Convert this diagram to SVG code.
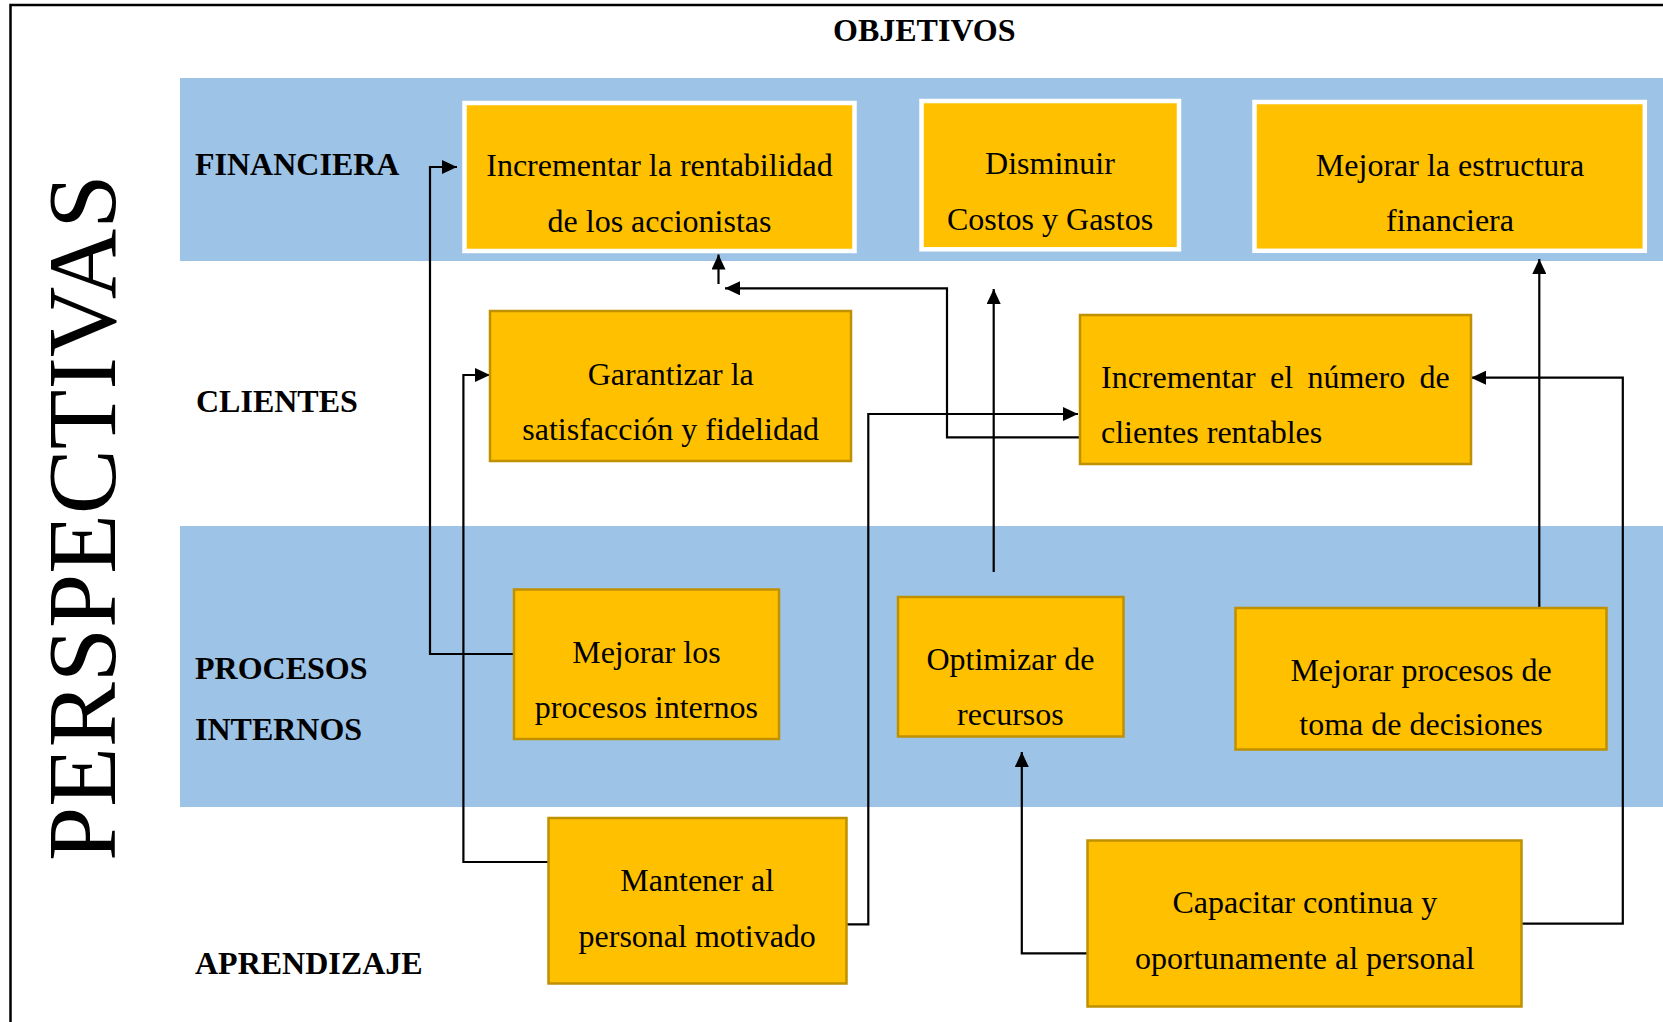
<svg xmlns="http://www.w3.org/2000/svg" width="1663" height="1022" viewBox="0 0 1663 1022">
<style>
.band{fill:#9DC3E6}
.topbox{fill:#FFC000;stroke:#FFFFFF;stroke-width:4.5}
.box{fill:#FFC000;stroke:#BF9000;stroke-width:2.5}
.t{font-family:"Liberation Serif","Times New Roman",serif;font-size:32px;fill:#000;text-anchor:middle}
.lbl{font-family:"Liberation Serif","Times New Roman",serif;font-size:32px;font-weight:bold;fill:#000}
.big{font-family:"Liberation Serif","Times New Roman",serif;font-size:97.5px;fill:#000}
.c{fill:none;stroke:#000;stroke-width:2.2}
.frame{fill:none;stroke:#000;stroke-width:2.5}
</style>
<defs>
<marker id="ah" markerUnits="userSpaceOnUse" markerWidth="15" markerHeight="14" refX="15" refY="7" orient="auto">
<path d="M0,0 L15,7 L0,14 z" fill="#000"/>
</marker>
</defs>
<rect x="0" y="0" width="1663" height="1022" fill="#FFFFFF"/>
<g id="frame">
<path class="frame" d="M10.5,1022 V5 H1663"/>
</g>
<g id="bands">
<rect class="band" x="180" y="78" width="1483" height="183"/>
<rect class="band" x="180" y="526" width="1483" height="281"/>
</g>
<g id="labels">
<text class="lbl" x="833" y="40.7">OBJETIVOS</text>
<text class="lbl" x="195" y="175">FINANCIERA</text>
<text class="lbl" x="196" y="411.7">CLIENTES</text>
<text class="lbl" x="195" y="679">PROCESOS</text>
<text class="lbl" x="195" y="739.5">INTERNOS</text>
<text class="lbl" x="195" y="974">APRENDIZAJE</text>
<text class="big" transform="translate(115,861) rotate(-90)" x="0" y="0">PERSPECTIVAS</text>
</g>
<g id="connectors">
<polyline class="c" points="515,654 430,654 430,167 457,167" marker-end="url(#ah)"/>
<polyline class="c" points="548,862 463.4,862 463.4,375 490,375" marker-end="url(#ah)"/>
<polyline class="c" points="1079,437.3 947,437.3 947,288.3 725,288.3" marker-end="url(#ah)"/>
<line class="c" x1="718.5" y1="284" x2="718.5" y2="254.5" marker-end="url(#ah)"/>
<line class="c" x1="993.7" y1="572" x2="993.7" y2="289" marker-end="url(#ah)"/>
<polyline class="c" points="847,924.3 868.3,924.3 868.3,414 1078,414" marker-end="url(#ah)"/>
<polyline class="c" points="1521.8,923.7 1622.8,923.7 1622.8,377.7 1471,377.7" marker-end="url(#ah)"/>
<line class="c" x1="1539.3" y1="607" x2="1539.3" y2="259" marker-end="url(#ah)"/>
<polyline class="c" points="1087,953.3 1021.8,953.3 1021.8,752" marker-end="url(#ah)"/>
</g>
<g id="n1">
<rect class="topbox" x="464.5" y="103" width="390" height="148"/>
<text class="t" x="659.5" y="175.5">Incrementar la rentabilidad</text>
<text class="t" x="659.5" y="231.5">de los accionistas</text>
</g>
<g id="n2">
<rect class="topbox" x="921.5" y="101" width="257.5" height="148.3"/>
<text class="t" x="1050" y="174.2">Disminuir</text>
<text class="t" x="1050" y="229.5">Costos y Gastos</text>
</g>
<g id="n3">
<rect class="topbox" x="1254.5" y="102" width="390.3" height="148.8"/>
<text class="t" x="1450" y="175.5">Mejorar la estructura</text>
<text class="t" x="1450" y="230.8">financiera</text>
</g>
<g id="n4">
<rect class="box" x="490" y="311" width="361" height="150"/>
<text class="t" x="670.7" y="384.8">Garantizar la</text>
<text class="t" x="670.7" y="439.8">satisfacción y fidelidad</text>
</g>
<g id="n5">
<rect class="box" x="1080" y="315" width="391" height="149"/>
<text class="t" x="1101" y="387.5" style="text-anchor:start" word-spacing="6.4">Incrementar el número de</text>
<text class="t" x="1101" y="443.2" style="text-anchor:start">clientes rentables</text>
</g>
<g id="n6">
<rect class="box" x="514" y="589.5" width="265" height="149.5"/>
<text class="t" x="646.4" y="662.5">Mejorar los</text>
<text class="t" x="646.4" y="718.2">procesos internos</text>
</g>
<g id="n7">
<rect class="box" x="898" y="597" width="225.5" height="139.5"/>
<text class="t" x="1010.4" y="669.8">Optimizar de</text>
<text class="t" x="1010.4" y="724.8">recursos</text>
</g>
<g id="n8">
<rect class="box" x="1235.5" y="608" width="371" height="141.5"/>
<text class="t" x="1421" y="680.8">Mejorar procesos de</text>
<text class="t" x="1421" y="734.8">toma de decisiones</text>
</g>
<g id="n9">
<rect class="box" x="548.5" y="818" width="298" height="165.5"/>
<text class="t" x="697.2" y="890.8">Mantener al</text>
<text class="t" x="697.2" y="946.5">personal motivado</text>
</g>
<g id="n10">
<rect class="box" x="1087.5" y="840.5" width="434" height="166"/>
<text class="t" x="1304.8" y="913.2">Capacitar continua y</text>
<text class="t" x="1304.8" y="969.2">oportunamente al personal</text>
</g>
</svg>
